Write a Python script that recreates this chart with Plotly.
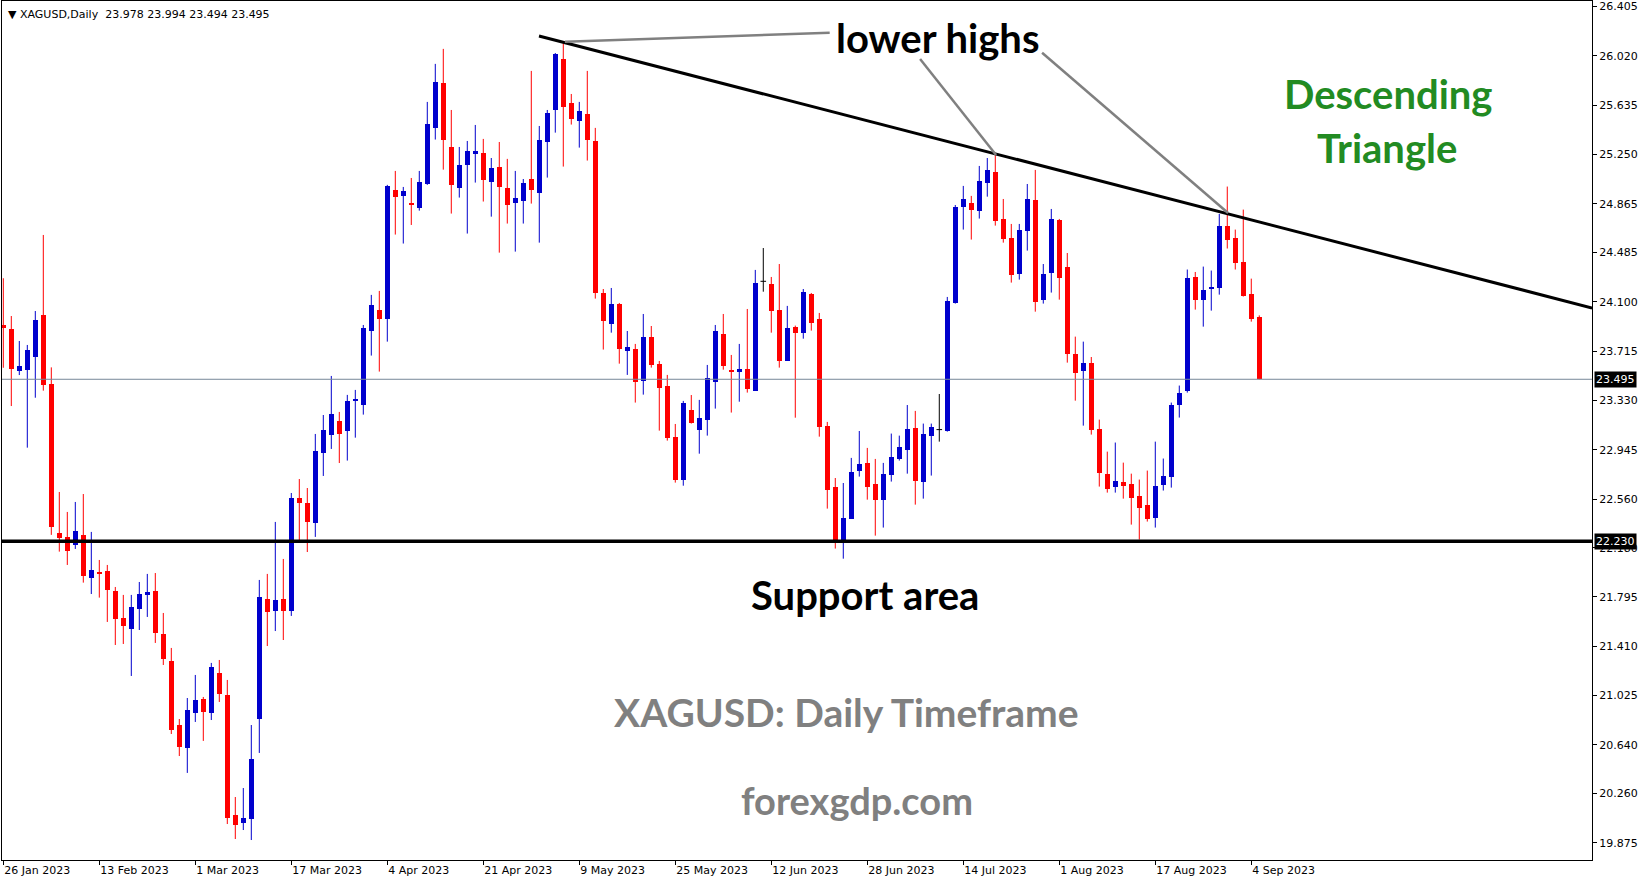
import plotly.graph_objects as go

# ---------------- DATA ----------------
opens = [23.919, 23.887, 23.559, 23.567, 23.671, 23.997, 23.458, 22.295, 22.264, 22.204,
         22.279, 21.946, 21.982, 21.998, 21.842, 21.631, 21.545, 21.701, 21.813, 21.842,
         21.506, 21.295, 20.795, 20.616, 20.889, 20.999, 20.889, 21.202, 21.030, 20.093,
         20.030, 20.061, 20.842, 21.779, 21.686, 21.779, 21.686, 22.568, 22.529, 22.373,
         22.920, 23.060, 23.170, 23.092, 23.329, 23.297, 23.875, 24.037, 23.969, 24.971,
         24.929, 24.872, 24.836, 25.023, 25.460, 25.809, 25.309, 24.992, 25.171, 25.257,
         25.262, 25.039, 25.153, 24.989, 24.875, 24.890, 25.059, 24.953, 25.351, 25.601,
         25.997, 25.653, 25.515, 25.567, 25.356, 24.169, 23.930, 24.083, 23.719, 23.732,
         23.484, 23.825, 23.615, 23.445, 23.044, 22.711, 23.255, 23.102, 23.180, 23.477,
         23.849, 23.568, 23.555, 23.576, 23.406, 24.260, 24.239, 24.036, 23.641, 23.904,
         23.859, 24.161, 23.966, 23.130, 22.654, 22.235, 22.407, 22.782, 22.841, 22.677,
         22.555, 22.750, 22.875, 22.946, 23.115, 22.696, 23.055, 23.102, 23.094, 24.091,
         24.843, 24.872, 24.812, 25.031, 25.114, 24.747, 24.601, 24.317, 24.656, 24.895,
         24.117, 24.328, 24.739, 24.375, 23.695, 23.563, 23.622, 23.107, 22.759, 22.657,
         22.693, 22.680, 22.587, 22.516, 22.415, 22.673, 22.735, 23.297, 23.407, 24.297,
         24.117, 24.203, 24.211, 24.695, 24.601, 24.414, 24.164, 23.978]
highs = [24.284, 23.989, 23.794, 23.763, 24.028, 24.622, 23.588, 22.615, 22.459, 22.537,
         22.599, 22.303, 22.084, 22.045, 21.873, 21.811, 21.811, 21.912, 21.975, 21.982,
         21.670, 21.397, 20.842, 21.006, 21.186, 21.014, 21.280, 21.303, 21.147, 20.233,
         20.303, 20.795, 21.928, 21.975, 22.381, 22.092, 22.607, 22.716, 22.646, 23.068,
         23.216, 23.521, 23.240, 23.373, 23.412, 23.919, 24.154, 24.185, 25.013, 25.122,
         24.997, 25.067, 25.122, 25.661, 25.958, 26.075, 25.598, 25.309, 25.356, 25.481,
         25.372, 25.223, 25.348, 25.216, 25.122, 25.059, 25.903, 25.473, 25.598, 26.043,
         26.121, 25.723, 25.661, 25.903, 25.458, 24.200, 24.208, 24.091, 23.872, 23.771,
         24.005, 23.911, 23.638, 23.529, 23.146, 23.326, 23.372, 23.334, 23.607, 23.919,
         24.005, 23.685, 23.771, 24.044, 24.349, 24.520, 24.294, 24.395, 24.068, 23.914,
         24.200, 24.169, 24.013, 23.162, 22.724, 22.685, 22.881, 23.091, 22.959, 22.873,
         22.842, 23.071, 23.055, 23.294, 23.248, 23.149, 23.149, 23.380, 24.138, 24.856,
         25.005, 24.927, 25.161, 25.223, 25.249, 24.903, 24.708, 24.708, 25.020, 25.130,
         24.395, 24.825, 24.747, 24.481, 23.828, 23.789, 23.669, 23.180, 22.930, 23.001,
         22.844, 22.758, 22.712, 22.782, 23.008, 22.876, 23.313, 23.446, 24.352, 24.333,
         24.375, 24.344, 24.786, 25.000, 24.664, 24.820, 24.281, 23.994]
lows = [23.585, 23.286, 23.528, 22.961, 23.351, 23.406, 22.280, 22.149, 22.045, 22.170,
        21.907, 21.818, 21.790, 21.600, 21.420, 21.428, 21.178, 21.537, 21.639, 21.436,
        21.264, 20.725, 20.553, 20.421, 20.819, 20.671, 20.834, 20.975, 20.022, 19.905,
        19.975, 19.897, 20.577, 21.412, 21.529, 21.459, 21.647, 22.240, 22.146, 22.264,
        22.740, 22.951, 22.841, 22.860, 23.039, 23.219, 23.680, 23.555, 23.789, 24.625,
        24.555, 24.700, 24.812, 25.013, 25.367, 25.132, 24.789, 24.914, 24.633, 25.031,
        24.883, 24.765, 24.484, 24.711, 24.492, 24.711, 24.867, 24.562, 25.070, 25.421,
        25.156, 25.484, 25.304, 25.203, 24.125, 23.727, 23.859, 23.617, 23.529, 23.313,
        23.375, 23.586, 23.094, 23.016, 22.688, 22.664, 23.149, 22.914, 23.055, 23.266,
        23.570, 23.235, 23.320, 23.391, 23.406, 24.179, 23.859, 23.586, 23.641, 23.195,
        23.812, 23.875, 23.047, 22.485, 22.173, 22.094, 22.407, 22.735, 22.555, 22.274,
        22.337, 22.696, 22.860, 22.758, 22.516, 22.563, 22.743, 23.008, 23.086, 24.086,
        24.664, 24.586, 24.750, 24.921, 24.695, 24.562, 24.250, 24.273, 24.500, 24.023,
        24.086, 24.172, 24.117, 23.625, 23.328, 23.133, 23.063, 22.657, 22.610, 22.610,
        22.563, 22.360, 22.243, 22.384, 22.337, 22.626, 22.649, 23.196, 23.391, 24.039,
        23.906, 24.031, 24.156, 24.516, 24.352, 24.141, 23.945, 23.494]
closes = [23.898, 23.578, 23.599, 23.724, 23.958, 23.453, 22.344, 22.258, 22.157, 22.310,
          21.962, 22.006, 21.977, 21.850, 21.623, 21.569, 21.717, 21.818, 21.834, 21.514,
          21.311, 20.756, 20.624, 20.913, 20.991, 20.897, 21.248, 21.038, 20.069, 20.014,
          20.069, 20.530, 21.795, 21.678, 21.772, 21.686, 22.568, 22.529, 22.381, 22.935,
          23.099, 23.224, 23.068, 23.326, 23.342, 23.893, 24.073, 23.969, 25.005, 24.922,
          24.966, 24.859, 25.036, 25.489, 25.817, 25.367, 25.015, 25.169, 25.278, 25.278,
          25.054, 25.145, 25.000, 24.859, 24.911, 25.028, 24.976, 25.364, 25.575, 26.036,
          25.624, 25.531, 25.590, 25.367, 24.172, 23.953, 24.083, 23.734, 23.747, 23.477,
          23.825, 23.609, 23.430, 23.039, 22.711, 23.310, 23.156, 23.193, 23.505, 23.872,
          23.602, 23.555, 23.576, 23.422, 24.247, 24.260, 24.031, 23.641, 23.896, 23.859,
          24.177, 23.937, 23.125, 22.633, 22.235, 22.412, 22.771, 22.834, 22.657, 22.555,
          22.756, 22.888, 22.966, 23.107, 22.704, 23.068, 23.123, 23.102, 24.107, 24.841,
          24.903, 24.820, 25.044, 25.130, 24.734, 24.593, 24.312, 24.661, 24.903, 24.101,
          24.317, 24.747, 24.289, 23.695, 23.547, 23.622, 23.102, 22.766, 22.641, 22.701,
          22.665, 22.571, 22.493, 22.407, 22.665, 22.743, 23.297, 23.391, 24.289, 24.117,
          24.195, 24.219, 24.695, 24.586, 24.406, 24.148, 23.969, 23.495]

date_ticks = [0, 12, 24, 36, 48, 60, 72, 84, 96, 108, 120, 132, 144, 156]
date_labels = ["26 Jan 2023", "13 Feb 2023", "1 Mar 2023", "17 Mar 2023", "4 Apr 2023",
               "21 Apr 2023", "9 May 2023", "25 May 2023", "12 Jun 2023", "28 Jun 2023",
               "14 Jul 2023", "1 Aug 2023", "17 Aug 2023", "4 Sep 2023"]
price_ticks = [26.405, 26.020, 25.635, 25.250, 24.865, 24.485, 24.100, 23.715, 23.330,
               22.945, 22.560, 22.180, 21.795, 21.410, 21.025, 20.640, 20.260, 19.875]

last_price = 23.495
support_level = 22.230
# descending trendline (bar index, price)
trend_x = [66.96, 198.6]
trend_y = [26.176, 24.052]
# grey pointer lines of the "lower highs" label (bar index, price)
pointer_x = [[70.2, 103.3], [114.6, 124.1], [129.85, 153.1]]
pointer_y = [[26.131, 26.202], [25.996, 25.247], [26.045, 24.794]]

# ---------------- FIGURE ----------------
UP = "#0000CD"
DOWN = "#FF0000"
n = len(opens)
xs = list(range(n))

fig = go.Figure()

def add_group(idx, color):
    if not idx:
        return
    wx, wy = [], []
    for i in idx:
        wx += [xs[i], xs[i], None]
        wy += [lows[i], highs[i], None]
    fig.add_trace(go.Scatter(x=wx, y=wy, mode="lines", line=dict(color=color, width=1),
                             hoverinfo="skip", showlegend=False))
    base = [min(opens[i], closes[i]) for i in idx]
    hgt = [max(abs(closes[i] - opens[i]), 0.01) for i in idx]
    fig.add_trace(go.Bar(x=[xs[i] for i in idx], y=hgt, base=base, width=0.62,
                         marker=dict(color=color, line=dict(width=0)),
                         hoverinfo="skip", showlegend=False))

up_idx = [i for i in range(n) if closes[i] > opens[i]]
dn_idx = [i for i in range(n) if closes[i] < opens[i]]
dj_idx = [i for i in range(n) if closes[i] == opens[i]]
add_group(up_idx, UP)
add_group(dn_idx, DOWN)

dx, dy = [], []
for i in dj_idx:
    dx += [xs[i], xs[i], None, xs[i] - 0.35, xs[i] + 0.35, None]
    dy += [lows[i], highs[i], None, opens[i], opens[i], None]
if dx:
    fig.add_trace(go.Scatter(x=dx, y=dy, mode="lines", line=dict(color="black", width=1),
                             hoverinfo="skip", showlegend=False))

shapes = [
    dict(type="line", xref="paper", x0=0, x1=1, yref="y", y0=last_price, y1=last_price,
         line=dict(color="#778899", width=1)),
    dict(type="line", xref="paper", x0=0, x1=1, yref="y", y0=support_level, y1=support_level,
         line=dict(color="black", width=3.5)),
    dict(type="line", xref="x", yref="y", x0=trend_x[0], y0=trend_y[0], x1=trend_x[1], y1=trend_y[1],
         line=dict(color="black", width=3)),
]
for px, py in zip(pointer_x, pointer_y):
    shapes.append(dict(type="line", xref="x", yref="y", x0=px[0], y0=py[0], x1=px[1], y1=py[1],
                       line=dict(color="#808080", width=2.5)))

BIG = "Lato"
annotations = [
    dict(text="\u25BC\u00a0XAGUSD,Daily\u00a0\u00a023.978\u00a023.994\u00a023.494\u00a023.495",
         xref="paper", yref="paper", x=0, y=1, xanchor="left", yanchor="top", xshift=4, yshift=-5,
         showarrow=False, font=dict(family="DejaVu Sans", size=11, color="black")),
    dict(text="<b>lower highs</b>", x=116.8, y=26.157, xref="x", yref="y", showarrow=False,
         font=dict(family=BIG, size=40, color="black")),
    dict(text="<b>Descending</b>", x=173.1, y=25.720, xref="x", yref="y", showarrow=False,
         font=dict(family=BIG, size=40, color="#228B22")),
    dict(text="<b>Triangle</b>", x=172.97, y=25.304, xref="x", yref="y", showarrow=False,
         font=dict(family=BIG, size=40, color="#228B22")),
    dict(text="<b>Support area</b>", x=107.7, y=21.814, xref="x", yref="y", showarrow=False,
         font=dict(family=BIG, size=40, color="black")),
    dict(text="<b>XAGUSD: Daily Timeframe</b>", x=105.4, y=20.898, xref="x", yref="y",
         showarrow=False, font=dict(family=BIG, size=39, color="#808080")),
    dict(text="<b>forexgdp.com</b>", x=106.7, y=20.210, xref="x", yref="y", showarrow=False,
         font=dict(family=BIG, size=38, color="#808080")),
]
for lvl in (last_price, support_level):
    annotations.append(dict(text=f"{lvl:.3f}", xref="paper", yref="y", x=1, y=lvl,
                            xanchor="left", yanchor="middle", xshift=2, showarrow=False,
                            bgcolor="black", borderpad=1,
                            font=dict(family="DejaVu Sans", size=11, color="white")))

fig.update_layout(
    width=1649, height=884,
    margin=dict(l=2, r=57, t=1, b=24),
    paper_bgcolor="white", plot_bgcolor="white",
    bargap=0, showlegend=False,
    shapes=shapes, annotations=annotations,
    xaxis=dict(range=[-0.1625, 198.59], showgrid=False, zeroline=False,
               showline=True, mirror=True, linecolor="black", linewidth=1,
               tickmode="array", tickvals=date_ticks, ticktext=date_labels,
               ticks="outside", ticklen=4, tickcolor="black",
               ticklabelposition="outside right",
               tickfont=dict(family="DejaVu Sans", size=11, color="black"), fixedrange=True),
    yaxis=dict(range=[19.741, 26.449], side="right", showgrid=False, zeroline=False,
               showline=True, mirror=True, linecolor="black", linewidth=1,
               tickmode="array", tickvals=price_ticks, ticktext=[f"{v:.3f}" for v in price_ticks],
               ticks="outside", ticklen=4, tickcolor="black",
               tickfont=dict(family="DejaVu Sans", size=11, color="black"), fixedrange=True),
)

fig.write_html("out.html", config={"displayModeBar": False},
               post_script="document.body.style.margin='0';")
